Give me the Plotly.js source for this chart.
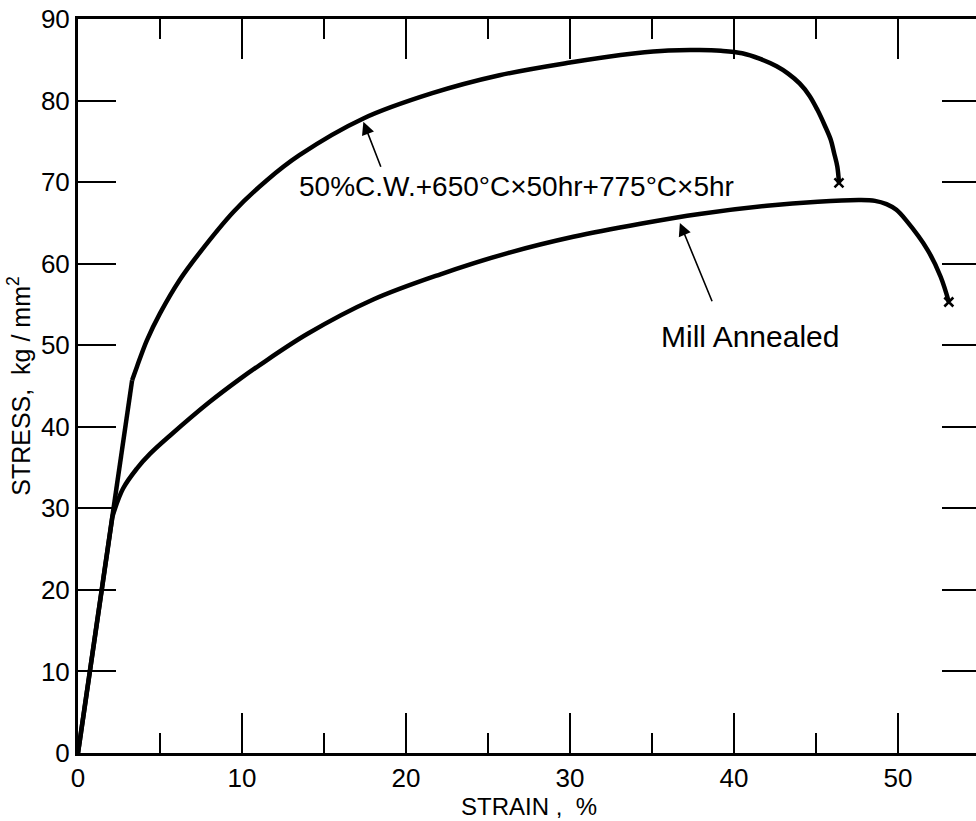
<!DOCTYPE html>
<html>
<head>
<meta charset="utf-8">
<script src="https://cdn.plot.ly/plotly-3.0.1.min.js"></script>
<style>
  html, body { margin: 0; padding: 0; overflow: hidden; background: #fff; }
  #chart { width: 990px; height: 821px; }
</style>
</head>
<body>
<div id="chart"></div>
<script>
// ---- Data (strain %, stress kg/mm^2) ----
// 50% C.W. + 650°C x 50hr + 775°C x 5hr
const cwElasticStrain = [0, 3.3];
const cwElasticStress = [0, 45.7];
const cwStrain = [3.3, 3.6, 4.2, 5.0, 6.2, 7.4, 9.5, 11.5, 13.5, 17.4, 21.6, 25.7, 29.8, 34.0, 36.0, 37.9, 39.2, 40.5, 41.6, 42.6, 43.3, 44.0, 44.6, 45.1, 45.5, 45.9, 46.1, 46.3, 46.4];
const cwStress = [45.7, 47.4, 50.6, 53.9, 58.0, 61.3, 66.4, 70.2, 73.3, 77.8, 80.9, 83.1, 84.6, 85.8, 86.15, 86.2, 86.1, 85.8, 85.1, 84.2, 83.3, 82.1, 80.6, 78.8, 77.1, 75.2, 73.6, 71.9, 69.9];

// Mill Annealed
const maElasticStrain = [0, 2.1];
const maElasticStress = [0, 29.0];
const maStrain = [2.1, 2.74, 3.6, 4.4, 5.6, 8.0, 9.9, 11.1, 14.0, 18.0, 22.1, 26.2, 30.2, 34.3, 37.9, 42.0, 45.1, 47.7, 48.6, 49.3, 49.9, 50.5, 51.8, 52.6, 53.1];
const maStress = [29.0, 32.4, 34.9, 36.7, 38.9, 43.0, 45.9, 47.6, 51.4, 55.6, 58.7, 61.3, 63.3, 64.9, 66.1, 67.1, 67.6, 67.8, 67.7, 67.3, 66.6, 65.3, 61.7, 58.4, 55.3];

const xTickVals = [0, 10, 20, 30, 40, 50];
const xTickText = ['0', '10', '20', '30', '40', '50'];
const yTickVals = [0, 10, 20, 30, 40, 50, 60, 70, 80, 90];
const yTickText = ['0', '10', '20', '30', '40', '50', '60', '70', '80', '90'];

const cwLabel = '50%C.W.+650°C×50hr+775°C×5hr';
const maLabel = 'Mill Annealed';
const xTitle = 'STRAIN ,  %';
const yTitle = 'STRESS,  kg / mm<sup>2</sup>';

// ---- Plot ----
const lineStyle = {color: '#000', width: 4.5};
const last = a => a[a.length - 1];

const traces = [
  {x: cwElasticStrain, y: cwElasticStress, mode: 'lines', line: lineStyle, name: 'CW elastic', showlegend: false, hoverinfo: 'skip'},
  {x: cwStrain, y: cwStress, mode: 'lines', line: Object.assign({shape: 'spline', smoothing: 1}, lineStyle), name: cwLabel, showlegend: false},
  {x: maElasticStrain, y: maElasticStress, mode: 'lines', line: lineStyle, name: 'MA elastic', showlegend: false, hoverinfo: 'skip'},
  {x: maStrain, y: maStress, mode: 'lines', line: Object.assign({shape: 'spline', smoothing: 1}, lineStyle), name: maLabel, showlegend: false},
  {x: [last(cwStrain), last(maStrain)], y: [last(cwStress), last(maStress)], mode: 'markers',
   marker: {symbol: 'x-thin-open', size: 9, color: '#000', line: {color: '#000', width: 2.5}}, showlegend: false, hoverinfo: 'skip'}
];

const font = 'Liberation Sans, Arial, sans-serif';

const layout = {
  width: 990, height: 821,
  margin: {l: 78, r: 10, t: 19, b: 68},
  paper_bgcolor: '#fff', plot_bgcolor: '#fff',
  showlegend: false,
  font: {family: font, color: '#000'},
  xaxis: {
    range: [0, 55], autorange: false,
    showgrid: false, zeroline: false,
    showline: true, linecolor: '#000', linewidth: 3, mirror: 'ticks',
    tickmode: 'array', tickvals: xTickVals, ticktext: xTickText,
    ticks: 'inside', ticklen: 40, tickwidth: 2, tickcolor: '#000',
    minor: {dtick: 5, tick0: 0, ticks: 'inside', ticklen: 20, tickwidth: 2, tickcolor: '#000', showgrid: false},
    tickfont: {family: font, size: 26, color: '#000'},
    title: {text: xTitle, font: {family: font, size: 24, color: '#000'}, standoff: 0}
  },
  yaxis: {
    range: [0, 90], autorange: false,
    showgrid: false, zeroline: false,
    showline: true, linecolor: '#000', linewidth: 3, mirror: 'ticks',
    tickmode: 'array', tickvals: yTickVals, ticktext: yTickText,
    ticks: 'inside', ticklen: 38, tickwidth: 2, tickcolor: '#000',
    tickfont: {family: font, size: 26, color: '#000'},
    title: {text: yTitle, font: {family: font, size: 25, color: '#000'}, standoff: 4}
  },
  annotations: [
    {x: 13.35, y: 69.5, xref: 'x', yref: 'y', text: cwLabel, showarrow: false, xanchor: 'left', yanchor: 'middle',
     font: {family: font, size: 28, color: '#000'}},
    {x: 17.4, y: 77.4, xref: 'x', yref: 'y', ax: 18.5, ay: 71.7, axref: 'x', ayref: 'y', text: '', showarrow: true,
     arrowhead: 2, arrowsize: 1.6, arrowwidth: 1.6, arrowcolor: '#000', standoff: 0, startstandoff: 0},
    {x: 35.4, y: 51.1, xref: 'x', yref: 'y', text: maLabel, showarrow: false, xanchor: 'left', yanchor: 'middle',
     font: {family: font, size: 30, color: '#000'}},
    {x: 36.7, y: 65.0, xref: 'x', yref: 'y', ax: 38.7, ay: 55.2, axref: 'x', ayref: 'y', text: '', showarrow: true,
     arrowhead: 2, arrowsize: 1.6, arrowwidth: 1.6, arrowcolor: '#000', standoff: 0, startstandoff: 0}
  ]
};

Plotly.newPlot('chart', traces, layout, {staticPlot: true, displayModeBar: false});
</script>
</body>
</html>
